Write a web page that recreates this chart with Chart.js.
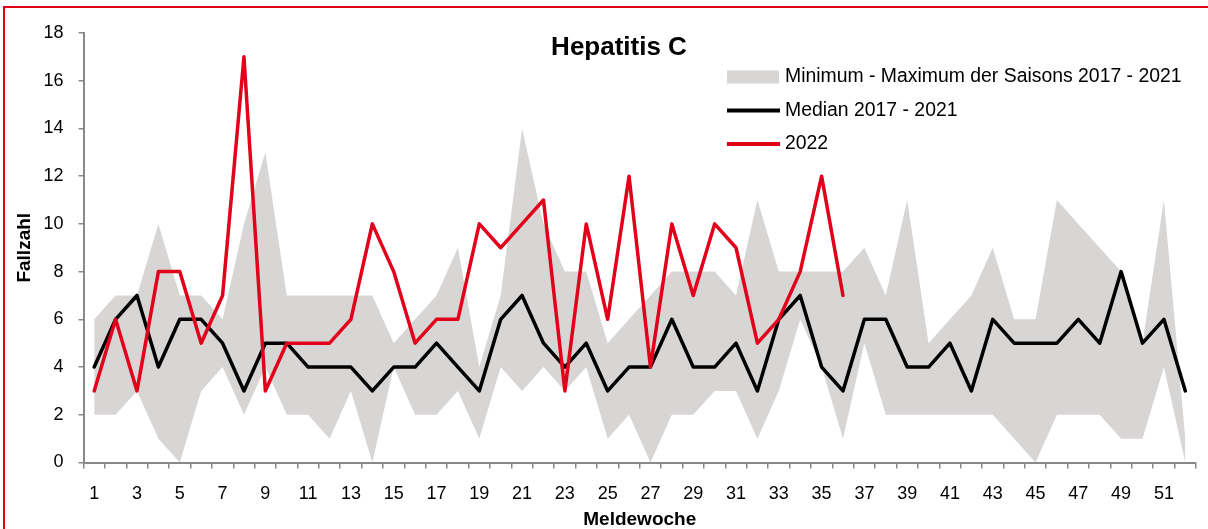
<!DOCTYPE html>
<html><head><meta charset="utf-8">
<script src="https://cdn.jsdelivr.net/npm/chart.js@4.4.1/dist/chart.umd.min.js"></script>
<style>
html,body{margin:0;padding:0;background:#fff;overflow:hidden}
#wrap{position:relative;width:1208px;height:529px}
#frame{position:absolute;left:3px;top:6px;width:1300px;height:700px;border-left:2px solid #e2001a;border-top:2px solid #e2001a;pointer-events:none}
canvas{position:absolute;left:0;top:0}
</style></head><body>
<div id="wrap"><canvas id="c" width="1208" height="529"></canvas><div id="frame"></div></div>
<script>
const weeks = ['1','2','3','4','5','6','7','8','9','10','11','12','13','14','15','16','17','18','19','20','21','22','23','24','25','26','27','28','29','30','31','32','33','34','35','36','37','38','39','40','41','42','43','44','45','46','47','48','49','50','51','52'];
const maxValues = [6,7,7,10,7,7,6,10,13,7, 7,7,7,7,5,6,7,9,4,7, 14,10,8,8,5,6,7,8,8,8, 7,11,8,8,8,8,9,7,11,5, 6,7,9,6,6,11,10,9,8,5, 11,1];
const minValues = [2,2,3,1,0,3,4,2,4,2, 2,1,3,0,4,2,2,3,1,4, 3,4,3,4,1,2,0,2,2,3, 3,1,3,6,4,1,5,2,2,2, 2,2,2,1,0,2,2,2,1,1, 4,0];
const median = [4,6,7,4,6,6,5,3,5,5, 4,4,4,3,4,4,5,4,3,6, 7,5,4,5,3,4,4,6,4,4, 5,3,6,7,4,3,6,6,4,4, 5,3,6,5,5,5,6,5,8,5, 6,3];
const cases2022 = [3,6,3,8,8,5,7,17,3,5, 5,5,6,10,8,5,6,6,10,9, 10,11,3,10,6,12,4,10,7,10, 9,5,6,8,12,7];
const seriesNames = ['Minimum - Maximum der Saisons 2017 - 2021', 'Median 2017 - 2021', '2022'];
const chartTitle = 'Hepatitis C';
const xTitle = 'Meldewoche';
const yTitle = 'Fallzahl';

const FONT = "'Liberation Sans', Arial, sans-serif";
const BAND = '#d8d5d5';
const RED = '#e3001b';
const AXIS = '#898989';

const overlay = {
  id: 'overlay',
  afterDraw(chart) {
    const ctx = chart.ctx;
    ctx.save();
    ctx.fillStyle = '#000';
    ctx.textBaseline = 'middle';
    ctx.textAlign = 'center';
    ctx.font = 'bold 26px ' + FONT;
    ctx.fillText(chartTitle, 619, 48);
    ctx.textAlign = 'left';
    ctx.font = '19.4px ' + FONT;
    const rows = [77, 110.5, 144];
    const ds = chart.data.datasets;
    ctx.fillStyle = BAND;
    ctx.fillRect(727, rows[0] - 6.5, 52, 13);
    [[ds[2], rows[1]], [ds[3], rows[2]]].forEach(([d, y]) => {
      ctx.strokeStyle = d.borderColor;
      ctx.lineWidth = 4;
      ctx.beginPath(); ctx.moveTo(727, y); ctx.lineTo(780, y); ctx.stroke();
    });
    ctx.fillStyle = '#000';
    ctx.fillText(ds[0].label, 785, rows[0]);
    ctx.fillText(ds[2].label, 785, rows[1]);
    ctx.fillText(ds[3].label, 785, rows[2]);
    ctx.restore();
  }
};

new Chart(document.getElementById('c'), {
  type: 'line',
  data: {
    labels: weeks,
    datasets: [
      {label: seriesNames[0], data: maxValues, fill: '+1', backgroundColor: BAND, borderWidth: 0, borderColor: 'rgba(0,0,0,0)', pointRadius: 0, order: 4},
      {label: 'min', data: minValues, fill: false, borderWidth: 0, borderColor: 'rgba(0,0,0,0)', pointRadius: 0, order: 3},
      {label: seriesNames[1], data: median, fill: false, borderColor: '#000', borderWidth: 3.5, pointRadius: 0, order: 2, borderJoinStyle: 'round', borderCapStyle: 'round'},
      {label: seriesNames[2], data: cases2022, fill: false, borderColor: RED, borderWidth: 3.5, pointRadius: 0, order: 1, borderJoinStyle: 'round', borderCapStyle: 'round'}
    ]
  },
  options: {
    responsive: false,
    animation: false,
    devicePixelRatio: 1,
    layout: {padding: {top: 33, right: 12, left: 0, bottom: 0}},
    plugins: {legend: {display: false}, tooltip: {enabled: false}, title: {display: false}, filler: {drawTime: 'beforeDatasetsDraw'}},
    scales: {
      x: {
        type: 'category',
        offset: true,
        afterFit: s => { s.height = 66.5; },
        grid: {offset: true, drawOnChartArea: false, drawTicks: true, tickLength: 6, color: AXIS, lineWidth: 1.5},
        border: {color: AXIS, width: 2},
        ticks: {autoSkip: false, maxRotation: 0, padding: 15, color: '#000', font: {family: FONT, size: 18},
          callback: (v, i) => (i % 2 === 0 ? weeks[i] : '')},
        title: {display: true, text: xTitle, color: '#000', font: {family: FONT, size: 19, weight: 'bold', lineHeight: 1}, padding: {top: 0, bottom: 0}}
      },
      y: {
        min: 0, max: 18,
        afterFit: s => { s.width = 83.5; },
        grid: {drawOnChartArea: false, drawTicks: true, tickLength: 5, color: AXIS, lineWidth: 1.5},
        border: {color: AXIS, width: 2},
        ticks: {stepSize: 2, padding: 15, color: '#000', font: {family: FONT, size: 18}},
        title: {display: true, text: yTitle, color: '#000', font: {family: FONT, size: 19, weight: 'bold', lineHeight: 1}, padding: {top: 15.5, bottom: 0}}
      }
    }
  },
  plugins: [overlay]
});
</script>
</body></html>
